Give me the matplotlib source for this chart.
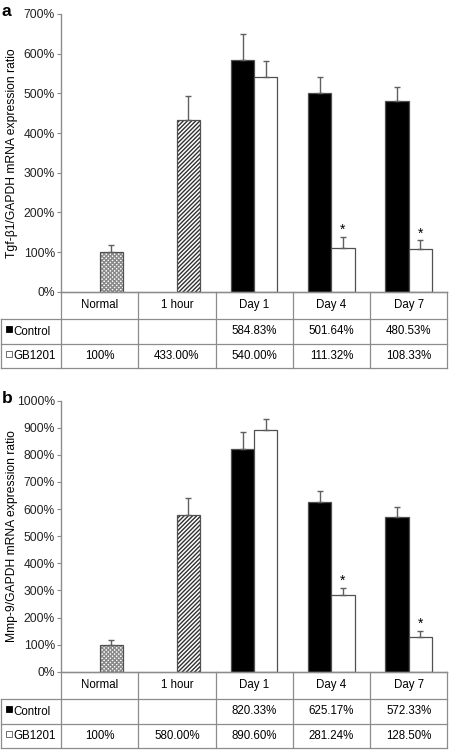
import numpy as np
import matplotlib
matplotlib.use('Agg')
import matplotlib.pyplot as plt

plt.rcParams['font.family'] = ['Liberation Sans', 'DejaVu Sans']
plt.rcParams['hatch.linewidth'] = 1.0

# categories and values
categories = ['Normal', '1 hour', 'Day 1', 'Day 4', 'Day 7']

# panel a: Tgf-b1
tgf_control = [None, None, 584.83, 501.64, 480.53]
tgf_gb1201 = [100, 433.00, 540.00, 111.32, 108.33]
tgf_control_err = [0, 0, 65, 40, 35]
tgf_gb1201_err = [17, 61, 42, 27, 21]
tgf_control_txt = ['', '', '584.83%', '501.64%', '480.53%']
tgf_gb1201_txt = ['100%', '433.00%', '540.00%', '111.32%', '108.33%']
tgf_star = [False, False, False, True, True]

# panel b: Mmp-9
mmp_control = [None, None, 820.33, 625.17, 572.33]
mmp_gb1201 = [100, 580.00, 890.60, 281.24, 128.50]
mmp_control_err = [0, 0, 63, 42, 37]
mmp_gb1201_err = [17, 62, 42, 27, 22]
mmp_control_txt = ['', '', '820.33%', '625.17%', '572.33%']
mmp_gb1201_txt = ['100%', '580.00%', '890.60%', '281.24%', '128.50%']
mmp_star = [False, False, False, True, True]

W, H = 450, 752
fig = plt.figure(figsize=(W / 100, H / 100), dpi=100)

grey = '#8c8c8c'
edge = '#505050'
fs = 8.3


def px_rect(x0, y0, x1, y1):
    # pixel box (top-left origin) -> figure fraction rect
    return [x0 / W, 1 - y1 / H, (x1 - x0) / W, (y1 - y0) / H]


def draw_panel(letter, ylabel, top, zero, ymax, ystep, control, gb, c_err, g_err,
               c_txt, g_txt, stars, row_edges):
    x_left, x_right = 61, 447.3
    ax = fig.add_axes(px_rect(x_left, top, x_right, zero))
    n = len(categories)
    centers = np.arange(n) + 0.5
    bw = 0.3

    for i in range(n):
        if control[i] is not None:
            ax.bar(centers[i] - bw, control[i], width=bw, align='edge',
                   color='black', edgecolor=edge, linewidth=0.9, zorder=2)
            ax.errorbar(centers[i] - bw / 2, control[i], yerr=[[0], [c_err[i]]],
                        color='#606060', elinewidth=1, capsize=2, capthick=1, zorder=3)
        # patterned fill for the two early time points
        if i == 0:
            ax.bar(centers[i], gb[i], width=bw, align='edge', color='white',
                   edgecolor='#8a8a8a', linewidth=0, hatch='xxxxxxxx', zorder=2)
        elif i == 1:
            ax.bar(centers[i], gb[i], width=bw, align='edge', color='white',
                   edgecolor='#303030', linewidth=0, hatch='////////', zorder=2)
        ax.bar(centers[i], gb[i], width=bw, align='edge',
               color='white' if i > 1 else 'none',
               edgecolor=edge, linewidth=0.9, zorder=2.5)
        ax.errorbar(centers[i] + bw / 2, gb[i], yerr=[[0], [g_err[i]]],
                    color='#606060', elinewidth=1, capsize=2, capthick=1, zorder=3)
        if stars[i]:
            ax.annotate('*', (centers[i] + bw / 2, gb[i] + g_err[i]),
                        xytext=(0, 0), textcoords='offset points',
                        ha='center', va='bottom', fontsize=10)

    ax.set_xlim(0, n)
    ax.set_ylim(0, ymax)
    ticks = np.arange(0, ymax + 1, ystep)
    ax.set_yticks(ticks)
    ax.set_yticklabels([f'{int(t)}%' for t in ticks], fontsize=fs + 0.4, color='#222222')
    ax.set_xticks([])
    ax.tick_params(axis='y', length=3, width=0.8, color=grey, pad=1.5)
    for s in ['top', 'right']:
        ax.spines[s].set_visible(False)
    ax.spines['left'].set_color(grey)
    ax.spines['bottom'].set_color(grey)
    ax.spines['left'].set_linewidth(1)
    ax.spines['bottom'].set_linewidth(1)

    fig.text(12 / W, 1 - (top + zero) / 2 / H, ylabel, rotation=90,
             ha='center', va='center', fontsize=fs + 0.4)
    fig.text(2 / W, 1 - (top - 2) / H, letter, fontsize=12.5, fontweight='bold',
             ha='left', va='center')

    # data table underneath
    r0, r1, r2, r3 = row_edges
    px_unit = (x_right - x_left) / n
    tx = fig.add_axes(px_rect(0, r0, x_right, r3))
    tx.set_xlim(-x_left / px_unit, n)
    tx.set_ylim(r3, r0)
    tx.axis('off')
    lab_x = -60 / px_unit
    lw = 0.9
    # horizontal lines
    tx.plot([0, n], [r0, r0], color=grey, lw=lw, clip_on=False)
    for y in [r1, r2, r3]:
        tx.plot([lab_x, n], [y, y], color=grey, lw=lw, clip_on=False)
    # vertical lines
    for x in range(0, n + 1):
        tx.plot([x, x], [r0, r3], color=grey, lw=lw, clip_on=False)
    tx.plot([lab_x, lab_x], [r1, r3], color=grey, lw=lw, clip_on=False)

    for i, cat in enumerate(categories):
        tx.text(i + 0.5, (r0 + r1) / 2, cat, ha='center', va='center', fontsize=fs)
        tx.text(i + 0.5, (r1 + r2) / 2, c_txt[i], ha='center', va='center', fontsize=fs)
        tx.text(i + 0.5, (r2 + r3) / 2, g_txt[i], ha='center', va='center', fontsize=fs)

    tx.plot([-(x_left - 8.5) / px_unit], [r1 + 10], marker='s', ms=4.8,
            mfc='black', mec='black', mew=0.6, clip_on=False)
    tx.plot([-(x_left - 8.5) / px_unit], [r2 + 10], marker='s', ms=4.8,
            mfc='white', mec='#555555', mew=0.6, clip_on=False)
    tx.text(-(x_left - 13.5) / px_unit, (r1 + r2) / 2 + 1, 'Control', ha='left',
            va='center', fontsize=fs)
    tx.text(-(x_left - 13.5) / px_unit, (r2 + r3) / 2, 'GB1201', ha='left',
            va='center', fontsize=fs)
    return ax


draw_panel('a', 'Tgf-\u03b21/GAPDH mRNA expression ratio', 14, 291.7, 700, 100,
           tgf_control, tgf_gb1201, tgf_control_err, tgf_gb1201_err,
           tgf_control_txt, tgf_gb1201_txt, tgf_star, (291.7, 319, 344, 368.3))

draw_panel('b', 'Mmp-9/GAPDH mRNA expression ratio', 400.7, 671.7, 1000, 100,
           mmp_control, mmp_gb1201, mmp_control_err, mmp_gb1201_err,
           mmp_control_txt, mmp_gb1201_txt, mmp_star, (671.7, 698.7, 724, 748.3))

plt.savefig('out.png', dpi=100)
